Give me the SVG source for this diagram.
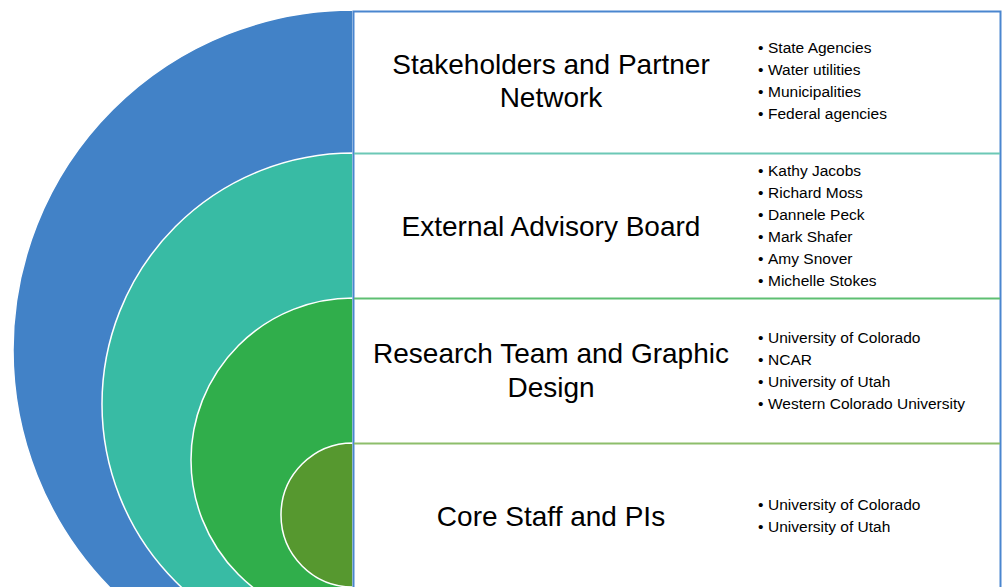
<svg xmlns="http://www.w3.org/2000/svg" width="1003" height="587" viewBox="0 0 1003 587">
<style>
.title{font-family:"Liberation Sans",Arial,sans-serif;font-size:28px;fill:#000;text-anchor:middle}
.item{font-family:"Liberation Sans",Arial,sans-serif;font-size:15.5px;fill:#000}
.ring{stroke:#fff;stroke-width:1.5}
</style>
<rect width="1003" height="587" fill="#fff"/>
<g id="rings">
<path id="ring-stakeholders" class="ring" d="M353,10 A340,340 0 0 0 353,690 Z" fill="#4282C7"/>
<path id="ring-board" class="ring" d="M353,153 A251,251 0 0 0 353,655 Z" fill="#38BBA4"/>
<path id="ring-research" class="ring" d="M353,298 A162,162 0 0 0 353,622 Z" fill="#30AE4B"/>
<path id="ring-core" class="ring" d="M353,443 A72,72 0 0 0 353,587 Z" fill="#56982F"/>
</g>
<g id="connectors">
<rect x="353.5" y="11.5" width="647" height="580" fill="none" stroke="#4A86CF" stroke-width="2"/>
<line x1="354" y1="153.5" x2="1000" y2="153.5" stroke="#6CC8B6" stroke-width="2"/>
<line x1="354" y1="298.5" x2="1000" y2="298.5" stroke="#5EBF72" stroke-width="2"/>
<line x1="354" y1="443.5" x2="1000" y2="443.5" stroke="#8DBE6B" stroke-width="2"/>
</g>
<g id="node-stakeholders">
<text class="title" x="551" y="74">Stakeholders and Partner</text>
<text class="title" x="551" y="107">Network</text>
<text class="item" y="53"><tspan x="758">•</tspan><tspan x="768">State Agencies</tspan></text>
<text class="item" y="75"><tspan x="758">•</tspan><tspan x="768">Water utilities</tspan></text>
<text class="item" y="97"><tspan x="758">•</tspan><tspan x="768">Municipalities</tspan></text>
<text class="item" y="119"><tspan x="758">•</tspan><tspan x="768">Federal agencies</tspan></text>
</g>
<g id="node-board">
<text class="title" x="551" y="236">External Advisory Board</text>
<text class="item" y="176"><tspan x="758">•</tspan><tspan x="768">Kathy Jacobs</tspan></text>
<text class="item" y="198"><tspan x="758">•</tspan><tspan x="768">Richard Moss</tspan></text>
<text class="item" y="220"><tspan x="758">•</tspan><tspan x="768">Dannele Peck</tspan></text>
<text class="item" y="242"><tspan x="758">•</tspan><tspan x="768">Mark Shafer</tspan></text>
<text class="item" y="264"><tspan x="758">•</tspan><tspan x="768">Amy Snover</tspan></text>
<text class="item" y="286"><tspan x="758">•</tspan><tspan x="768">Michelle Stokes</tspan></text>
</g>
<g id="node-research">
<text class="title" x="551" y="363">Research Team and Graphic</text>
<text class="title" x="551" y="397">Design</text>
<text class="item" y="343"><tspan x="758">•</tspan><tspan x="768">University of Colorado</tspan></text>
<text class="item" y="365"><tspan x="758">•</tspan><tspan x="768">NCAR</tspan></text>
<text class="item" y="387"><tspan x="758">•</tspan><tspan x="768">University of Utah</tspan></text>
<text class="item" y="409"><tspan x="758">•</tspan><tspan x="768">Western Colorado University</tspan></text>
</g>
<g id="node-core">
<text class="title" x="551" y="526">Core Staff and PIs</text>
<text class="item" y="510"><tspan x="758">•</tspan><tspan x="768">University of Colorado</tspan></text>
<text class="item" y="532"><tspan x="758">•</tspan><tspan x="768">University of Utah</tspan></text>
</g>
</svg>
